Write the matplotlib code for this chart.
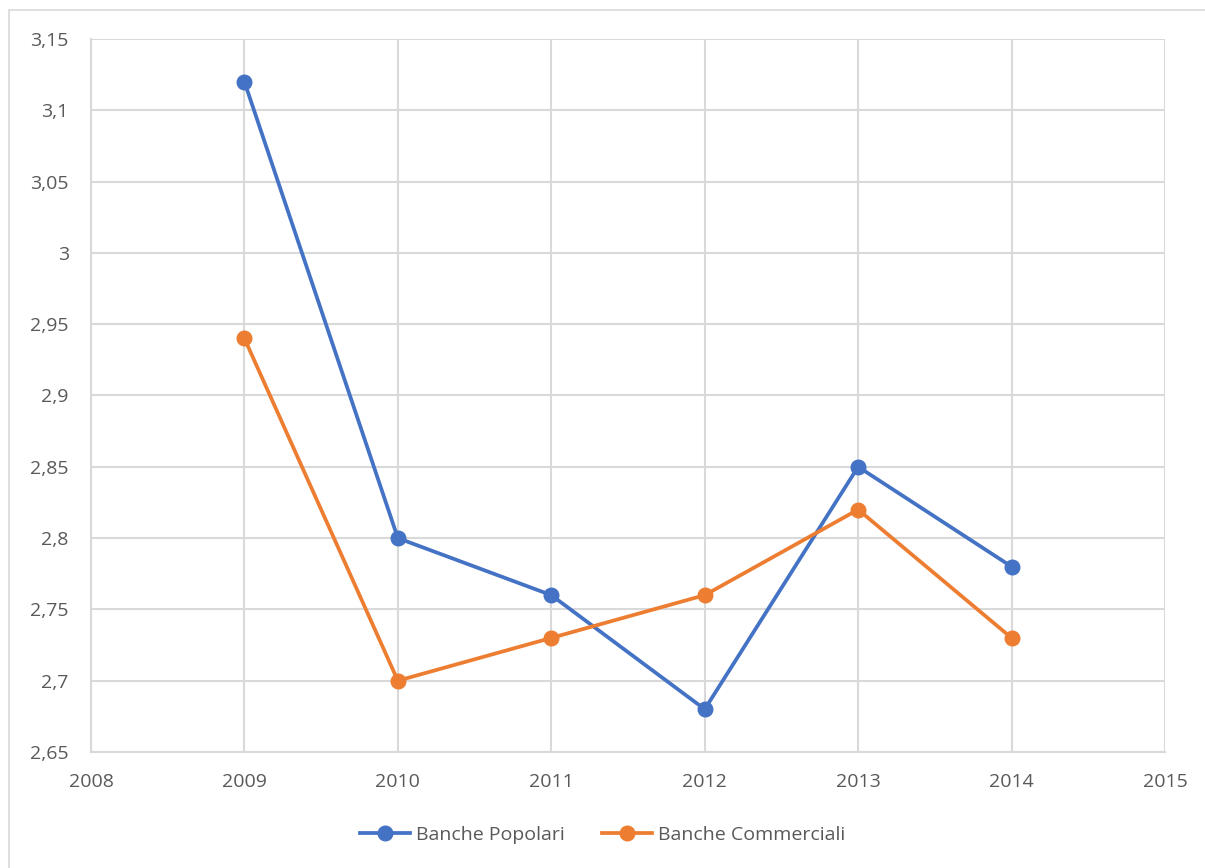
import matplotlib
matplotlib.use("Agg")
import matplotlib.pyplot as plt
from matplotlib.patches import Rectangle
from matplotlib.ticker import FuncFormatter, MultipleLocator

years = [2009, 2010, 2011, 2012, 2013, 2014]
popolari = [3.12, 2.80, 2.76, 2.68, 2.85, 2.78]
commerciali = [2.94, 2.70, 2.73, 2.76, 2.82, 2.73]
series_names = ["Banche Popolari", "Banche Commerciali"]

plt.rcParams['font.family'] = ['Open Sans', 'DejaVu Sans']

W, H = 1205, 868
fig = plt.figure(figsize=(W / 100, H / 100), dpi=100)
fig.patch.set_facecolor("white")

# outer chart border
fig.add_artist(Rectangle((9 / W, -0.05), 1.2, 1 - 10 / H + 0.05,
                         transform=fig.transFigure, fill=False,
                         edgecolor="#d9d9d9", linewidth=1.2))

ax = fig.add_axes([91 / W, 1 - 752 / H, (1165 - 91) / W, (752 - 39) / H])
grid_c = "#d9d9d9"
ax.set_xlim(2008, 2015)
ax.set_ylim(2.65, 3.15)
ax.xaxis.set_major_locator(MultipleLocator(1))
ax.yaxis.set_major_locator(MultipleLocator(0.05))

def fmt_y(v, pos):
    s = f"{v:.2f}".rstrip("0").rstrip(".")
    return s.replace(".", ",")

ax.yaxis.set_major_formatter(FuncFormatter(fmt_y))
ax.xaxis.set_major_formatter(FuncFormatter(lambda v, p: f"{int(round(v))}"))

ax.grid(True, color=grid_c, linewidth=1.5)
ax.set_axisbelow(True)
for side in ["top", "right"]:
    ax.spines[side].set_visible(False)
for side in ["left", "bottom"]:
    ax.spines[side].set_color(grid_c)
    ax.spines[side].set_linewidth(1.5)
ax.tick_params(length=0, colors="#595959", labelsize=14)
ax.tick_params(axis="x", pad=15)
ax.tick_params(axis="y", pad=16)

ax.plot(years, popolari, color="#4472C4", linewidth=2.7, marker="o",
        markersize=10.5, label=series_names[0], clip_on=False, zorder=3)
ax.plot(years, commerciali, color="#ED7D31", linewidth=2.7, marker="o",
        markersize=10.5, label=series_names[1], clip_on=False, zorder=3)

leg = fig.legend(loc="center", bbox_to_anchor=(0.5, 1 - 835 / H), ncol=2,
                 frameon=False, fontsize=14, handlelength=2.6,
                 columnspacing=1.9, handletextpad=0.3)
for t in leg.get_texts():
    t.set_color("#595959")

fig.savefig("out.png", dpi=100)
